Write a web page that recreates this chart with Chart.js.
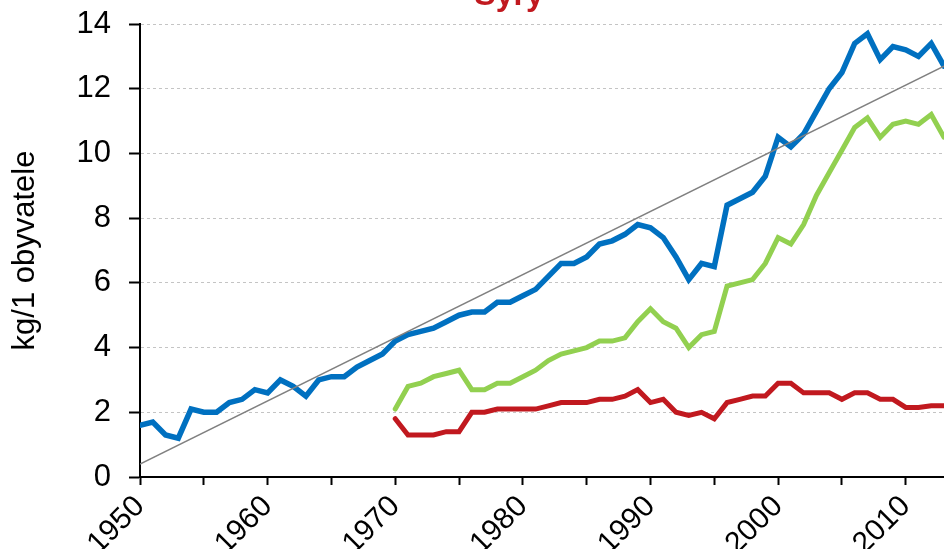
<!DOCTYPE html>
<html lang="cs">
<head>
<meta charset="utf-8">
<title>Sýry</title>
<script src="https://cdn.jsdelivr.net/npm/chart.js@4/dist/chart.umd.min.js"></script>
<style>
  html, body { margin:0; padding:0; background:#fff; overflow:hidden; }
  #chart { display:block; }
</style>
</head>
<body>
<canvas id="chart" width="944" height="549"></canvas>
<script>
// ── Data ─────────────────────────────────────────────────────────
const years = [
  1950, 1951, 1952, 1953, 1954, 1955, 1956, 1957, 1958, 1959,
  1960, 1961, 1962, 1963, 1964, 1965, 1966, 1967, 1968, 1969,
  1970, 1971, 1972, 1973, 1974, 1975, 1976, 1977, 1978, 1979,
  1980, 1981, 1982, 1983, 1984, 1985, 1986, 1987, 1988, 1989,
  1990, 1991, 1992, 1993, 1994, 1995, 1996, 1997, 1998, 1999,
  2000, 2001, 2002, 2003, 2004, 2005, 2006, 2007, 2008, 2009,
  2010, 2011, 2012, 2013
];

// blue – 1950..2013
const blueValues = [
  1.6, 1.7, 1.3, 1.2, 2.1, 2.0, 2.0, 2.3, 2.4, 2.7,
  2.6, 3.0, 2.8, 2.5, 3.0, 3.1, 3.1, 3.4, 3.6, 3.8,
  4.2, 4.4, 4.5, 4.6, 4.8, 5.0, 5.1, 5.1, 5.4, 5.4,
  5.6, 5.8, 6.2, 6.6, 6.6, 6.8, 7.2, 7.3, 7.5, 7.8,
  7.7, 7.4, 6.8, 6.1, 6.6, 6.5, 8.4, 8.6, 8.8, 9.3,
  10.5, 10.2, 10.6, 11.3, 12.0, 12.5, 13.4, 13.7, 12.9, 13.3,
  13.2, 13.0, 13.4, 12.7
];

// green – 1970..2013
const greenValues = [
  2.1, 2.8, 2.9, 3.1, 3.2, 3.3, 2.7, 2.7, 2.9, 2.9,
  3.1, 3.3, 3.6, 3.8, 3.9, 4.0, 4.2, 4.2, 4.3, 4.8,
  5.2, 4.8, 4.6, 4.0, 4.4, 4.5, 5.9, 6.0, 6.1, 6.6,
  7.4, 7.2, 7.8, 8.7, 9.4, 10.1, 10.8, 11.1, 10.5, 10.9,
  11.0, 10.9, 11.2, 10.5
];

// red – 1970..2013
const redValues = [
  1.8, 1.3, 1.3, 1.3, 1.4, 1.4, 2.0, 2.0, 2.1, 2.1,
  2.1, 2.1, 2.2, 2.3, 2.3, 2.3, 2.4, 2.4, 2.5, 2.7,
  2.3, 2.4, 2.0, 1.9, 2.0, 1.8, 2.3, 2.4, 2.5, 2.5,
  2.9, 2.9, 2.6, 2.6, 2.6, 2.4, 2.6, 2.6, 2.4, 2.4,
  2.15, 2.15, 2.2, 2.2
];

// linear trend of the blue series (end points)
const trendYears = [1950, 2013];
const trendValues = [0.4, 12.7];

// tick marks every 5 years, labels every 10
const xTicks = [1950, 1955, 1960, 1965, 1970, 1975, 1980, 1985, 1990, 1995, 2000, 2005, 2010];
const yTicks = [0, 2, 4, 6, 8, 10, 12, 14];
const chartTitle = "Sýry";
const yTitle = "kg/1 obyvatele";

// ── Helpers ──────────────────────────────────────────────────────
const FONT = "'Liberation Sans', Arial, sans-serif";
const pairs = (xs, ys) => ys.map((v, i) => ({ x: xs[i], y: v }));
const greenYears = years.slice(years.indexOf(1970));

// Title (sits partly above the canvas edge like the original)
const titlePlugin = {
  id: "topTitle",
  afterDraw(chart) {
    const ctx = chart.ctx;
    ctx.save();
    ctx.font = `bold 32px ${FONT}`;
    ctx.fillStyle = "#C1191F";
    ctx.textAlign = "center";
    ctx.textBaseline = "alphabetic";
    ctx.fillText(chartTitle, 509, 5);
    ctx.restore();
  }
};

const lineStyle = (color, width) => ({
  borderColor: color,
  backgroundColor: color,
  borderWidth: width,
  pointRadius: 0,
  tension: 0,
  fill: false,
  borderCapStyle: "round"
});

// ── Chart ────────────────────────────────────────────────────────
new Chart(document.getElementById("chart"), {
  type: "line",
  data: {
    datasets: [
      { label: "trend", data: pairs(trendYears, trendValues), order: 0, ...lineStyle("#808080", 1.5), borderCapStyle: "butt" },
      { label: "celkem", data: pairs(years, blueValues), order: 1, ...lineStyle("#0070C0", 5.5) },
      { label: "tvrdé sýry", data: pairs(greenYears, greenValues), order: 2, ...lineStyle("#92D050", 5) },
      { label: "tavené sýry", data: pairs(greenYears, redValues), order: 3, ...lineStyle("#C1191F", 5) }
    ]
  },
  options: {
    responsive: false,
    animation: false,
    layout: { padding: { top: 24, right: 0, left: 0, bottom: 0 } },
    plugins: {
      legend: { display: false },
      tooltip: { enabled: false },
      title: { display: false }
    },
    scales: {
      x: {
        type: "linear",
        min: 1950,
        max: 2013,
        afterBuildTicks: (scale) => {
          scale.ticks = xTicks.map(v => ({ value: v }));
        },
        afterFit: (scale) => { scale.height = 72; },
        ticks: {
          autoSkip: false,
          maxRotation: 45,
          minRotation: 45,
          padding: 4,
          color: "#000",
          font: { family: FONT, size: 30 },
          callback: (v) => (v % 10 === 0 ? String(v) : "")
        },
        grid: {
          drawOnChartArea: false,
          tickLength: 8,
          tickColor: "#000",
          tickWidth: 2
        },
        border: { color: "#000", width: 2 }
      },
      y: {
        min: 0,
        max: 14,
        afterBuildTicks: (scale) => {
          scale.ticks = yTicks.map(v => ({ value: v }));
        },
        afterFit: (scale) => { scale.width = 140; },
        ticks: {
          padding: 18,
          color: "#000",
          // small lineHeight keeps the top label from pushing the plot down
          font: { family: FONT, size: 31, lineHeight: 0.2 }
        },
        grid: {
          color: "#c4c4c4",
          lineWidth: 1,
          tickLength: 11,
          tickColor: "#000",
          tickWidth: 2
        },
        border: { color: "#000", width: 2, dash: [3, 3] },
        title: {
          display: true,
          text: yTitle,
          color: "#000",
          font: { family: FONT, size: 31, lineHeight: 1 },
          padding: { top: 10, bottom: 0 }
        }
      }
    }
  },
  plugins: [titlePlugin]
});
</script>
</body>
</html>
